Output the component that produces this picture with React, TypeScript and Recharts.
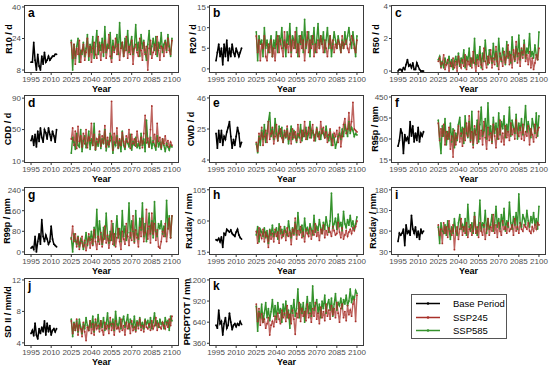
import { LineChart, Line, XAxis, YAxis } from 'recharts'

const baseYears = Array.from({ length: 20 }, (_, i) => 1995 + i)
const futureYears = Array.from({ length: 76 }, (_, i) => 2025 + i)
const xTicks = [1995, 2010, 2025, 2040, 2055, 2070, 2085, 2100]

// a: R10
const baseA = [12, 12, 22, 13, 8, 16, 10, 8, 15, 11, 17, 12, 13, 15, 13, 14, 15, 15, 16, 16]
const s245A = [22, 14, 21, 11, 19, 16, 23, 12, 18, 21, 13, 17, 24, 15, 20, 12, 19, 22, 16, 14, 25, 18, 13, 21, 17, 23, 14, 19, 26, 15, 12, 20, 17, 24, 16, 21, 13, 19, 22, 15, 18, 25, 14, 20, 16, 23, 11, 19, 21, 17, 15, 24, 18, 13, 22, 16, 20, 8, 19, 23, 14, 17, 21, 16, 25, 18, 13, 20, 19, 15, 22, 17, 24, 18, 16, 23]
const s585A = [23, 8, 21, 14, 20, 24, 12, 18, 16, 22, 15, 19, 26, 13, 21, 17, 25, 14, 20, 28, 16, 22, 18, 24, 15, 30, 17, 21, 19, 27, 14, 23, 18, 20, 26, 16, 32, 19, 22, 15, 24, 18, 28, 17, 21, 25, 16, 20, 31, 18, 22, 15, 26, 19, 23, 17, 13, 21, 28, 16, 20, 24, 18, 25, 15, 22, 19, 27, 17, 21, 23, 18, 26, 20, 15, 24]

// b: R20
const baseB = [2, 4, 6, 3, 5, 1, 6, 3, 7, 2, 5, 3, 6, 4, 3, 5, 4, 3, 4, 5]
const s245B = [8, 4, 7, 2, 6, 5, 8, 3, 2, 6, 4, 7, 3, 5, 2, 6, 8, 4, 7, 5, 3, 9, 5, 6, 4, 8, 3, 7, 5, 9, 4, 6, 3, 8, 5, 7, 2, 6, 9, 4, 7, 5, 8, 3, 6, 4, 7, 5, 8, 6, 4, 7, 5, 3, 6, 8, 5, 7, 4, 6, 5, 7, 6, 4, 8, 5, 6, 7, 5, 4, 6, 8, 7, 5, 4, 7]
const s585B = [9, 2, 8, 6, 7, 3, 10, 5, 7, 4, 6, 8, 3, 7, 5, 9, 4, 8, 6, 10, 5, 7, 3, 9, 6, 11, 4, 8, 7, 5, 10, 3, 8, 6, 9, 4, 12, 5, 7, 9, 3, 8, 6, 10, 4, 7, 11, 5, 8, 6, 9, 4, 7, 10, 5, 8, 3, 6, 9, 7, 5, 8, 6, 4, 7, 5, 9, 6, 8, 10, 7, 5, 9, 6, 3, 8]

// c: R50
const baseC = [0, 0.1, 0.1, 0, 0.2, 0.1, 0.4, 0.7, 0.3, 0.4, 0.2, 0.5, 0.1, 0.1, 0.5, 0.3, 0.1, 0, 0, 0]
const s245C = [0.6, 0.8, 0.2, 0.5, 1.0, 0.1, 0.4, 0.7, 0, 0.5, 0.3, 0.8, 0.2, 0.6, 0, 0.9, 0.4, 0.2, 0.7, 0.3, 1.0, 0.1, 0.6, 0.4, 0.8, 0.2, 1.2, 0.5, 0, 0.7, 0.3, 1.0, 0.4, 0.1, 1.4, 0.6, 0.2, 0.9, 0.5, 1.3, 0.2, 0.8, 0.4, 1.5, 0.6, 0.1, 1.1, 0.7, 0.3, 1.2, 0.5, 0.9, 1.6, 0.4, 1.0, 0.2, 1.3, 0.7, 1.8, 0.5, 1.1, 0.3, 1.4, 0.8, 1.6, 0.6, 1.0, 0.4, 1.2, 0.2, 0.8, 0.1, 0.5, 1.0, 0.7, 1.4]
const s585C = [0.7, 0.9, 0.3, 0.6, 0.2, 0.8, 0.4, 0.5, 0.9, 0.3, 0.7, 0.1, 0.6, 0.9, 0.4, 1.1, 0.3, 0.8, 0.5, 1.3, 0.2, 0.9, 0.6, 1.4, 0.3, 0.8, 0.5, 2.0, 0.4, 1.0, 0.7, 1.5, 0.2, 1.1, 0.6, 1.9, 0.8, 0.4, 1.3, 0.9, 0.5, 1.7, 0.7, 1.2, 0.3, 2.0, 0.9, 0.6, 1.4, 1.0, 0.4, 1.8, 0.8, 1.2, 0.5, 2.1, 1.0, 0.6, 1.5, 0.9, 2.2, 0.7, 1.3, 1.0, 1.9, 0.8, 1.4, 1.1, 2.3, 0.9, 1.2, 0.8, 1.6, 1.0, 0.7, 2.4]

// d: CDD
const baseD = [36, 42, 30, 44, 28, 48, 35, 52, 40, 34, 50, 46, 38, 52, 44, 36, 48, 42, 34, 50]
const s245D = [38, 52, 30, 48, 26, 54, 35, 42, 28, 45, 32, 50, 27, 40, 36, 58, 30, 44, 25, 38, 34, 48, 29, 42, 33, 55, 28, 40, 31, 36, 86, 24, 45, 33, 52, 27, 38, 30, 46, 35, 28, 42, 34, 50, 26, 44, 32, 38, 29, 48, 35, 30, 40, 27, 45, 68, 33, 39, 28, 50, 80, 34, 44, 29, 58, 35, 40, 27, 38, 32, 42, 30, 36, 28, 34, 30]
const s585D = [20, 40, 34, 25, 45, 30, 28, 50, 22, 36, 42, 27, 33, 48, 25, 38, 30, 58, 24, 35, 29, 44, 26, 38, 32, 50, 23, 36, 28, 45, 40, 20, 34, 30, 42, 26, 36, 22, 48, 30, 25, 38, 33, 28, 44, 24, 35, 30, 40, 27, 32, 26, 45, 30, 38, 22, 62, 34, 28, 40, 26, 36, 30, 24, 42, 28, 34, 25, 38, 30, 22, 32, 28, 24, 30, 28]

// e: CWD
const baseE = [22, 12, 24, 16, 24, 14, 20, 18, 23, 26, 30, 20, 12, 18, 14, 20, 26, 22, 13, 16]
const s245E = [16, 10, 22, 18, 26, 14, 20, 24, 16, 30, 18, 22, 26, 15, 20, 28, 17, 22, 25, 19, 16, 24, 20, 27, 18, 22, 15, 25, 19, 23, 17, 28, 21, 16, 24, 20, 30, 18, 22, 26, 19, 24, 28, 17, 21, 25, 20, 18, 30, 22, 26, 19, 23, 16, 21, 25, 18, 14, 22, 20, 24, 16, 26, 13, 20, 28, 32, 22, 25, 36, 24, 30, 43, 25, 24, 23]
const s585E = [15, 9, 20, 14, 24, 18, 28, 16, 22, 30, 36, 20, 25, 18, 32, 22, 17, 27, 20, 26, 16, 23, 19, 25, 15, 21, 27, 18, 24, 20, 16, 22, 19, 28, 17, 24, 20, 26, 18, 22, 30, 19, 24, 21, 17, 26, 20, 23, 18, 25, 22, 19, 27, 20, 17, 24, 14, 21, 19, 12, 16, 20, 22, 18, 25, 20, 28, 24, 20, 30, 22, 26, 24, 20, 22, 21]

// f: R95p
const baseF = [110, 150, 230, 200, 60, 190, 150, 170, 130, 280, 180, 250, 140, 200, 150, 240, 140, 200, 180, 210]
const s245F = [270, 150, 230, 180, 260, 120, 210, 160, 240, 90, 180, 35, 220, 120, 170, 250, 140, 200, 110, 230, 150, 270, 180, 320, 140, 210, 100, 250, 190, 130, 350, 160, 220, 120, 280, 170, 90, 240, 150, 200, 130, 260, 180, 100, 230, 160, 290, 140, 200, 120, 250, 170, 210, 150, 270, 190, 230, 160, 290, 200, 180, 240, 160, 260, 150, 210, 180, 250, 120, 230, 190, 140, 260, 170, 220, 240]
const s585F = [290, 160, 60, 250, 180, 300, 120, 210, 160, 270, 140, 230, 100, 200, 150, 260, 310, 180, 240, 130, 320, 200, 170, 280, 150, 350, 120, 230, 190, 290, 140, 260, 380, 180, 220, 300, 160, 410, 190, 250, 140, 310, 200, 270, 160, 340, 190, 280, 230, 320, 170, 260, 210, 380, 180, 290, 240, 200, 330, 160, 270, 220, 300, 190, 260, 390, 210, 280, 230, 170, 300, 250, 200, 340, 180, 320]

// g: R99p
const baseG = [15, 20, 10, 60, 0, 40, 70, 30, 125, 60, 40, 65, 50, 30, 40, 100, 50, 30, 25, 20]
const s245G = [50, 100, 40, 70, 20, 55, 10, 35, 60, 20, 45, 5, 30, 70, 15, 50, 25, 85, 40, 10, 60, 30, 75, 20, 50, 100, 35, 65, 15, 45, 120, 30, 70, 20, 55, 90, 40, 10, 80, 50, 30, 110, 60, 25, 75, 45, 140, 35, 85, 55, 20, 95, 60, 130, 40, 75, 165, 50, 100, 35, 150, 70, 110, 45, 85, 20, 15, 40, 80, 60, 110, 40, 90, 130, 55, 140]
const s585G = [55, 0, 70, 45, 30, 60, 20, 50, 40, 10, 35, 75, 25, 60, 45, 80, 30, 95, 55, 165, 40, 120, 70, 30, 95, 50, 150, 60, 35, 80, 45, 110, 25, 70, 140, 55, 90, 40, 160, 60, 100, 45, 75, 190, 55, 120, 80, 40, 160, 70, 50, 130, 85, 190, 60, 110, 40, 90, 150, 70, 120, 55, 195, 80, 60, 110, 90, 120, 70, 100, 60, 200, 90, 140, 55, 140]

// h: Rx1day
const baseH = [33, 32, 35, 30, 37, 22, 42, 40, 48, 46, 44, 47, 42, 40, 38, 44, 48, 40, 36, 34]
const s245H = [45, 28, 50, 40, 35, 48, 30, 44, 38, 22, 46, 34, 42, 30, 48, 38, 44, 28, 52, 36, 40, 46, 32, 50, 38, 44, 26, 48, 40, 64, 34, 46, 40, 52, 36, 44, 30, 48, 42, 38, 50, 34, 46, 40, 56, 38, 44, 32, 48, 42, 54, 36, 46, 40, 50, 44, 38, 52, 46, 40, 42, 58, 44, 36, 50, 34, 40, 46, 38, 44, 48, 42, 50, 46, 52, 60]
const s585H = [40, 52, 30, 48, 44, 38, 50, 36, 46, 28, 48, 40, 54, 38, 44, 50, 34, 56, 42, 48, 38, 52, 44, 40, 60, 46, 36, 50, 42, 58, 40, 72, 48, 44, 54, 38, 64, 46, 50, 42, 56, 48, 40, 68, 44, 52, 46, 62, 50, 42, 58, 48, 66, 54, 44, 60, 100, 50, 56, 64, 48, 70, 52, 58, 46, 74, 56, 50, 62, 54, 68, 52, 60, 48, 56, 66]

// i: Rx5day
const baseI = [55, 75, 70, 75, 85, 45, 95, 75, 80, 70, 118, 85, 75, 90, 65, 80, 60, 85, 75, 80]
const s245I = [95, 70, 85, 50, 100, 75, 90, 65, 105, 80, 70, 95, 35, 80, 90, 60, 85, 110, 70, 90, 75, 100, 65, 85, 95, 70, 80, 115, 75, 90, 65, 100, 80, 70, 95, 60, 85, 110, 70, 90, 80, 120, 75, 95, 65, 100, 80, 70, 105, 85, 90, 75, 100, 80, 85, 95, 70, 110, 80, 90, 75, 100, 85, 80, 95, 90, 85, 100, 80, 75, 90, 80, 95, 85, 100, 95]
const s585I = [90, 50, 100, 80, 75, 95, 70, 105, 85, 60, 90, 75, 110, 80, 70, 100, 120, 85, 95, 80, 110, 70, 145, 90, 80, 100, 75, 125, 85, 70, 95, 155, 80, 100, 90, 130, 75, 110, 85, 95, 120, 80, 100, 140, 90, 110, 85, 120, 95, 135, 80, 105, 90, 150, 100, 85, 115, 95, 125, 85, 170, 100, 90, 120, 110, 95, 130, 105, 90, 115, 100, 125, 95, 110, 85, 140]

// j: SDII
const baseJ = [5.2, 5.6, 4.9, 6.5, 5.0, 4.5, 5.8, 5.2, 6.0, 5.4, 6.8, 5.0, 6.5, 5.4, 6.2, 5.0, 5.6, 5.8, 5.4, 5.8]
const s245J = [6.8, 5.2, 6.4, 5.6, 7.0, 5.0, 6.2, 5.8, 4.8, 6.6, 5.4, 4.3, 6.0, 5.6, 6.8, 5.2, 6.4, 5.0, 7.0, 5.8, 6.2, 5.4, 6.8, 5.6, 5.0, 6.6, 5.8, 6.2, 5.2, 7.2, 5.6, 6.4, 5.0, 6.8, 5.8, 6.0, 5.4, 7.0, 5.6, 6.2, 5.0, 6.6, 5.8, 6.4, 5.2, 6.8, 5.6, 6.0, 5.4, 6.6, 5.8, 7.0, 5.6, 6.2, 5.4, 6.8, 6.0, 5.8, 6.4, 5.6, 6.8, 5.8, 6.2, 7.2, 5.6, 6.4, 6.0, 5.8, 6.6, 6.2, 5.8, 6.6, 6.0, 7.0, 6.2, 7.4]
const s585J = [7.0, 4.8, 6.6, 5.6, 6.8, 5.4, 7.0, 6.0, 5.2, 6.4, 5.8, 7.2, 6.2, 5.6, 6.8, 6.0, 7.4, 5.4, 6.6, 6.2, 7.6, 5.8, 6.8, 6.0, 7.2, 5.6, 6.4, 7.8, 5.8, 6.6, 6.2, 7.0, 5.6, 8.0, 6.4, 6.0, 7.2, 5.8, 6.8, 7.4, 6.0, 6.6, 7.6, 5.8, 7.0, 6.4, 6.0, 7.4, 5.6, 6.8, 6.2, 7.2, 6.0, 6.6, 5.8, 7.0, 6.4, 6.8, 6.0, 7.2, 5.8, 6.6, 7.8, 6.2, 6.8, 6.0, 7.0, 6.4, 6.6, 5.8, 7.2, 6.4, 6.8, 5.6, 7.4, 6.8]

// k: PRCPTOT
const baseK = [600, 560, 800, 620, 650, 470, 620, 700, 560, 600, 760, 640, 540, 600, 620, 580, 620, 600, 650, 610]
const s245K = [880, 650, 820, 600, 750, 640, 680, 560, 620, 700, 470, 600, 650, 580, 720, 640, 760, 680, 620, 800, 700, 760, 650, 860, 700, 740, 620, 800, 680, 480, 760, 700, 900, 650, 820, 720, 780, 660, 880, 700, 760, 640, 820, 720, 900, 680, 760, 620, 840, 700, 780, 660, 880, 720, 800, 680, 860, 740, 820, 700, 900, 760, 640, 820, 880, 700, 780, 660, 860, 740, 800, 720, 880, 940, 650, 1000]
const s585K = [850, 520, 780, 700, 880, 640, 760, 900, 700, 820, 660, 780, 940, 720, 860, 680, 900, 760, 820, 640, 880, 740, 920, 700, 800, 560, 860, 760, 940, 720, 820, 1080, 700, 880, 760, 900, 640, 820, 980, 760, 900, 720, 1120, 800, 860, 940, 760, 880, 700, 920, 820, 1000, 760, 880, 940, 800, 960, 720, 880, 1020, 800, 900, 860, 960, 820, 940, 880, 1000, 860, 920, 1080, 900, 980, 940, 1060, 1020]

const panels = [
  { id: 'a', label: 'R10 / d', base: baseA, s245: s245A, s585: s585A, domain: [6.5, 41], ticks: [8, 24, 40], col: 0, row: 0, labelOff: 15 },
  { id: 'b', label: 'R20 / d', base: baseB, s245: s245B, s585: s585B, domain: [-1, 15.5], ticks: [0, 5, 10, 15], col: 1, row: 0, labelOff: 16 },
  { id: 'c', label: 'R50 / d', base: baseC, s245: s245C, s585: s585C, domain: [-0.12, 4.06], ticks: [0, 2, 4], col: 2, row: 0, labelOff: 15 },
  { id: 'd', label: 'CDD / d', base: baseD, s245: s245D, s585: s585D, domain: [7.5, 94], ticks: [10, 50, 90], col: 0, row: 1, labelOff: 16 },
  { id: 'e', label: 'CWD / d', base: baseE, s245: s245E, s585: s585E, domain: [2, 48], ticks: [4, 25, 46], col: 1, row: 1, labelOff: 18 },
  { id: 'f', label: 'R95p / mm', base: baseF, s245: s245F, s585: s585F, domain: [-6, 464], ticks: [15, 160, 305, 450], col: 2, row: 1, labelOff: 16 },
  { id: 'g', label: 'R99p / mm', base: baseG, s245: s245G, s585: s585G, domain: [-12, 252], ticks: [0, 80, 160, 240], col: 0, row: 2, labelOff: 17 },
  { id: 'h', label: 'Rx1day / mm', base: baseH, s245: s245H, s585: s585H, domain: [11, 109], ticks: [15, 60, 105], col: 1, row: 2, labelOff: 20 },
  { id: 'i', label: 'Rx5day / mm', base: baseI, s245: s245I, s585: s585I, domain: [22, 187], ticks: [30, 80, 130, 180], col: 2, row: 2, labelOff: 18 },
  { id: 'j', label: 'SD II / mm/d', base: baseJ, s245: s245J, s585: s585J, domain: [3.6, 12.25], ticks: [4, 8, 12], col: 0, row: 3, labelOff: 16 },
  { id: 'k', label: 'PRCPTOT / mm', base: baseK, s245: s245K, s585: s585K, domain: [324, 1226], ticks: [360, 640, 920, 1200], col: 1, row: 3, labelOff: 22 },
]

const colLeft = [24, 209, 391]
const rowTop = [5, 95, 187, 278]
const boxW = 155
const boxH = 68
const font = '"Liberation Sans", Arial, sans-serif'
const RED = '#a8302a'
const GREEN = '#35922c'

const Panel = ({ p }: { p: any }) => {
  const left = colLeft[p.col]
  const top = rowTop[p.row]
  const rows = [
    ...baseYears.map((y, i) => ({ year: y, base: p.base[i] })),
    ...futureYears.map((y, i) => ({ year: y, s245: p.s245[i], s585: p.s585[i] })),
  ]
  const tick = { fontSize: 8, fill: '#4d4d4d', fontFamily: font }
  return (
    <>
      <div style={{ position: 'absolute', left: left - 24, top: top - 4 }}>
        <LineChart width={24 + boxW + 4} height={4 + boxH + 22} data={rows} margin={{ top: 4, right: 4, left: 0, bottom: 0 }}>
          <XAxis
            dataKey="year"
            type="number"
            domain={[1989.75, 2105.25]}
            ticks={xTicks}
            interval={0}
            allowDataOverflow
            height={22}
            axisLine={false}
            tickSize={2}
            tickMargin={1}
            tickLine={{ stroke: '#333' }}
            tick={tick}
            label={{ value: 'Year', position: 'insideBottom', offset: 3, style: { fontSize: 9, fontWeight: 'bold', fill: '#000', fontFamily: font } }}
          />
          <YAxis
            type="number"
            domain={p.domain}
            ticks={p.ticks}
            interval={0}
            allowDataOverflow
            width={24}
            axisLine={false}
            tickSize={2}
            tickMargin={1}
            tickLine={{ stroke: '#333' }}
            tick={tick}
          />
          <Line dataKey="base" stroke="#000" strokeWidth={1.5} dot={{ r: 0.9, fill: '#000', strokeWidth: 0 }} isAnimationActive={false} />
          <Line dataKey="s585" stroke={GREEN} strokeWidth={1.4} dot={{ r: 0.9, fill: GREEN, strokeWidth: 0 }} isAnimationActive={false} />
          <Line dataKey="s245" stroke={RED} strokeOpacity={0.75} strokeWidth={1.4} dot={{ r: 0.9, fill: RED, strokeWidth: 0 }} isAnimationActive={false} />
        </LineChart>
      </div>
      <div style={{ position: 'absolute', left, top, width: boxW, height: boxH, border: '1.3px solid #3a3a3a', boxSizing: 'border-box', pointerEvents: 'none' }} />
      <div style={{ position: 'absolute', left: left + 4, top: top + 1, fontSize: 12, fontWeight: 'bold', fontFamily: font, lineHeight: '14px' }}>{p.id}</div>
      <div
        style={{
          position: 'absolute',
          left: left - p.labelOff - 50,
          top: top + boxH / 2 - 6,
          width: 100,
          height: 12,
          lineHeight: '12px',
          textAlign: 'center',
          fontSize: 9,
          fontWeight: 'bold',
          fontFamily: font,
          transform: 'rotate(-90deg)',
          whiteSpace: 'nowrap',
        }}
      >
        {p.label}
      </div>
    </>
  )
}

const legendItems = [
  { name: 'Base Period', color: '#000' },
  { name: 'SSP245', color: RED },
  { name: 'SSP585', color: GREEN },
]

const App = () => {
  return (
    <div style={{ position: 'absolute', left: 0, top: 0, width: 550, height: 366, background: '#fff', overflow: 'hidden' }}>
      {panels.map((p) => (
        <Panel key={p.id} p={p} />
      ))}
      <div style={{ position: 'absolute', left: 411, top: 294, width: 96, height: 45, border: '1px solid #555', boxSizing: 'border-box', fontFamily: font, fontSize: 9.5 }}>
        {legendItems.map((it, i) => (
          <div key={it.name} style={{ position: 'absolute', left: 3, top: 2 + i * 13.5, height: 13, display: 'flex', alignItems: 'center' }}>
            <svg width={26} height={13}>
              <line x1={1} x2={25} y1={6.5} y2={6.5} stroke={it.color} strokeWidth={1.5} />
              <circle cx={13} cy={6.5} r={1.3} fill={it.color} />
            </svg>
            <span style={{ marginLeft: 12 }}>{it.name}</span>
          </div>
        ))}
      </div>
    </div>
  )
}

export default App
